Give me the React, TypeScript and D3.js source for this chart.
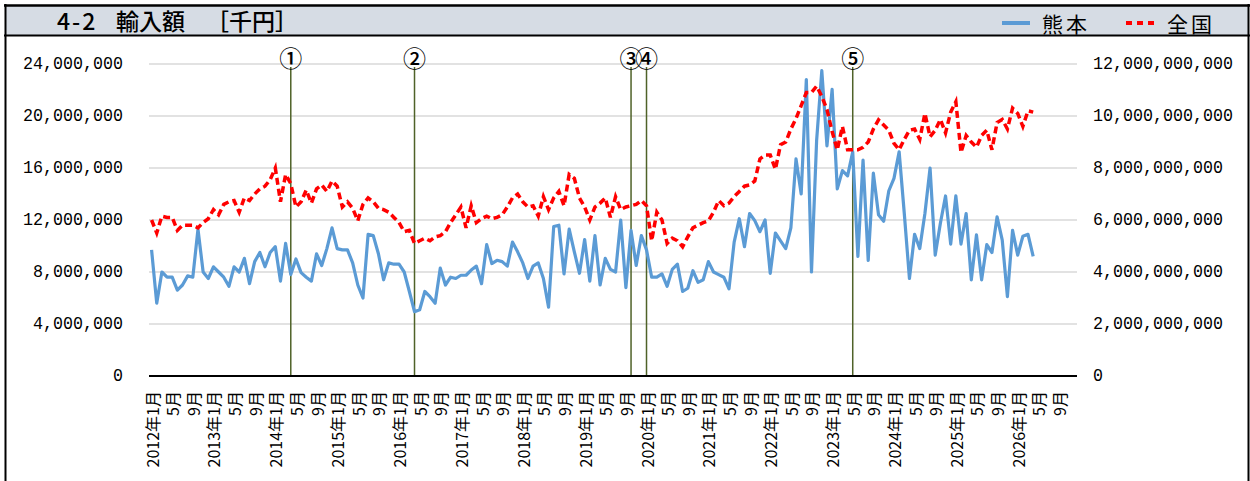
import React from 'react';
import * as d3 from 'd3';

// categories: 2012年1月 .. 2026年12月
const years = d3.range(2012, 2027);
const months = d3.range(1, 13);
const categories = years.flatMap((y) => months.map((m) => `${y}-${m}`));

// 熊本 (百万千円 = ×1,000,000 千円), 2012年1月から
const kumamoto = [
  9.7, 5.6, 8.0, 7.6, 7.6, 6.6, 7.0, 7.7, 7.6, 11.3, 8.0, 7.5,
  8.4, 8.0, 7.6, 6.9, 8.4, 8.0, 9.05, 7.1, 8.8, 9.5, 8.4, 9.5,
  9.95, 7.3, 10.2, 7.8, 9.0, 7.95, 7.6, 7.3, 9.4, 8.5, 9.8, 11.4,
  9.8, 9.7, 9.7, 8.7, 7.0, 6.0, 10.9, 10.8, 9.4, 7.4, 8.7, 8.6,
  8.6, 8.0, 6.5, 4.95, 5.1, 6.5, 6.1, 5.6, 8.3, 7.0, 7.6, 7.5,
  7.75, 7.75, 8.15, 8.45, 7.1, 10.1, 8.65, 8.9, 8.8, 8.45, 10.3, 9.55,
  8.7, 7.5, 8.45, 8.7, 7.5, 5.3, 11.5, 11.6, 7.85, 11.3, 9.55, 7.9,
  10.5, 7.3, 10.8, 7.0, 9.05, 8.2, 8.0, 12.0, 6.8, 11.2, 8.5, 10.8,
  9.7, 7.6, 7.6, 7.85, 6.9, 8.2, 8.6, 6.5, 6.75, 8.1, 7.2, 7.4,
  8.8, 8.0, 7.8, 7.6, 6.7, 10.3, 12.1, 9.95, 12.5, 11.95, 11.1, 12.0,
  7.9, 11.0, 10.4, 9.8, 11.4, 16.7, 14.0, 22.8, 8.0, 18.15, 23.5, 17.7,
  22.05, 14.4, 15.8, 15.4, 17.25, 9.2, 16.6, 8.9, 15.6, 12.4, 11.9, 14.25,
  15.2, 17.25, 12.5, 7.5, 10.9, 9.8, 12.5, 16.0, 9.3, 11.75, 13.85, 10.15,
  13.85, 10.15, 12.5, 7.4, 10.85, 7.4, 10.1, 9.5, 12.25, 10.45, 6.1, 11.2,
  9.3, 10.75, 10.9, 9.2,
];

// 全国 (十億千円 = ×1,000,000,000 千円), 2012年1月から
const zenkoku = [
  6.0, 5.5, 6.15, 6.1, 6.1, 5.6, 5.8, 5.8, 5.8, 5.7, 5.9, 6.05,
  6.4, 6.2, 6.6, 6.7, 6.75, 6.3, 6.85, 6.75, 7.0, 7.2, 7.3, 7.55,
  8.0, 6.7, 7.75, 7.4, 6.5, 6.7, 7.15, 6.65, 7.2, 7.35, 7.1, 7.5,
  7.3, 6.5, 6.7, 6.45, 5.97, 6.6, 6.85, 6.7, 6.45, 6.4, 6.3, 6.1,
  5.9, 5.55, 5.6, 5.1, 5.2, 5.3, 5.2, 5.35, 5.4, 5.55, 5.9, 6.2,
  6.5, 5.7, 6.55, 5.9, 6.05, 6.15, 6.05, 6.1, 6.2, 6.5, 6.85, 7.0,
  6.7, 6.5, 6.55, 6.15, 6.9, 6.4, 6.85, 7.1, 6.55, 7.75, 7.6, 6.85,
  6.5, 6.0, 6.5, 6.65, 6.85, 6.1, 6.9, 6.4, 6.5, 6.55, 6.6, 6.75,
  6.55, 5.2, 6.3, 6.0, 5.1, 5.3, 5.2, 4.97, 5.35, 5.7, 5.8, 5.9,
  5.97, 6.3, 6.75, 6.55, 6.65, 6.9, 7.1, 7.3, 7.35, 7.5, 8.35, 8.5,
  8.5, 7.95, 8.9, 9.0, 9.5, 9.9, 10.4, 10.9, 10.9, 11.15, 10.75, 10.25,
  9.4, 8.7, 9.6, 8.7, 8.7, 8.7, 8.8, 9.0, 9.5, 9.85, 9.65, 9.45,
  8.95, 8.7, 9.1, 9.45, 9.5, 9.1, 10.1, 9.2, 9.45, 9.87, 9.35, 10.15,
  10.55, 8.6, 9.25, 9.0, 8.8, 9.25, 9.45, 8.7, 9.75, 9.87, 9.5, 10.3,
  10.1, 9.6, 10.2, 10.15,
];

const leftTicks = [0, 4e6, 8e6, 12e6, 16e6, 20e6, 24e6];
const rightTicks = [0, 2e9, 4e9, 6e9, 8e9, 10e9, 12e9];
const labelMonths = [1, 5, 9];

const eventMarks = ['①', '②', '③', '④', '⑤'];
const eventMonths = ['2014-4', '2016-4', '2019-10', '2020-1', '2023-5'];

const fmt = d3.format(',');

const App = () => {
  const x = d3.scaleBand<string>().domain(categories).range([149, 1077]);
  const cx = (c: string) => (x(c) ?? 0) + x.bandwidth() / 2;
  const yL = d3.scaleLinear().domain([0, 24e6]).range([376, 64]);
  const yR = d3.scaleLinear().domain([0, 12e9]).range([376, 64]);

  const kumaLine = d3
    .line<number>()
    .x((_, i) => cx(categories[i]))
    .y((v) => yL(v * 1e6));
  const zenLine = d3
    .line<number>()
    .x((_, i) => cx(categories[i]))
    .y((v) => yR(v * 1e9));

  const numFont = '"Liberation Mono", monospace';
  const jpFont = '"Noto Sans CJK JP", sans-serif';

  return (
    <svg
      width={1250}
      height={481}
      style={{ position: 'absolute', left: 0, top: 0, display: 'block' }}
    >
      <rect x={0} y={0} width={1250} height={481} fill="#fff" />

      {/* title band */}
      <rect x={6} y={6} width={1242} height={29} fill="#D6DCE4" />
      <line x1={4} x2={1250} y1={5.5} y2={5.5} stroke="#000" strokeWidth={2.5} />
      <line x1={4} x2={1250} y1={35.5} y2={35.5} stroke="#000" strokeWidth={2} />
      <line x1={5.5} x2={5.5} y1={4} y2={481} stroke="#000" strokeWidth={2} />
      <line x1={1248.5} x2={1248.5} y1={4} y2={481} stroke="#000" strokeWidth={2} />

      <text y={30} fontFamily={jpFont} fontSize={23} fontWeight={500} fill="#000">
        <tspan x={57} letterSpacing={2}>4-2 </tspan>
        <tspan x={116}>輸入額　</tspan>
        <tspan x={206}>［千円］</tspan>
      </text>

      {/* legend */}
      <line x1={1002} x2={1030} y1={23} y2={23} stroke="#5B9BD5" strokeWidth={4} />
      <text
        x={1042}
        y={23}
        dominantBaseline="central"
        fontFamily={jpFont}
        fontSize={21}
        letterSpacing={3}
      >
        熊本
      </text>
      <line
        x1={1126}
        x2={1156}
        y1={23}
        y2={23}
        stroke="#FF0000"
        strokeWidth={4}
        strokeDasharray="6 5"
      />
      <text
        x={1167}
        y={23}
        dominantBaseline="central"
        fontFamily={jpFont}
        fontSize={21}
        letterSpacing={3}
      >
        全国
      </text>

      {/* gridlines */}
      {leftTicks.slice(1).map((t) => (
        <line
          key={t}
          x1={149}
          x2={1077}
          y1={yL(t)}
          y2={yL(t)}
          stroke="#D9D9D9"
          strokeWidth={1.5}
        />
      ))}

      {/* left axis labels */}
      {leftTicks.map((t) => {
        const s = fmt(t);
        return (
          <text
            key={t}
            x={123}
            y={yL(t)}
            textAnchor="end"
            dominantBaseline="central"
            fontFamily={numFont}
            fontSize={18}
            textLength={s.length * 10}
            lengthAdjust="spacingAndGlyphs"
          >
            {s}
          </text>
        );
      })}

      {/* right axis labels */}
      {rightTicks.map((t) => {
        const s = fmt(t);
        return (
          <text
            key={t}
            x={1093}
            y={yR(t)}
            dominantBaseline="central"
            fontFamily={numFont}
            fontSize={18}
            textLength={s.length * 10}
            lengthAdjust="spacingAndGlyphs"
          >
            {s}
          </text>
        );
      })}

      {/* event lines */}
      {eventMonths.map((m, i) => (
        <g key={m}>
          <line
            x1={cx(m)}
            x2={cx(m)}
            y1={67}
            y2={376}
            stroke="#4F6228"
            strokeWidth={1.5}
          />
          <text
            x={cx(m)}
            y={57}
            textAnchor="middle"
            dominantBaseline="central"
            fontFamily={jpFont}
            fontSize={23}
            fontWeight={500}
          >
            {eventMarks[i]}
          </text>
        </g>
      ))}

      {/* series */}
      <path
        d={kumaLine(kumamoto) ?? ''}
        fill="none"
        stroke="#5B9BD5"
        strokeWidth={3.2}
        strokeLinejoin="round"
      />
      <path
        d={zenLine(zenkoku) ?? ''}
        fill="none"
        stroke="#FF0000"
        strokeWidth={3.5}
        strokeDasharray="7 4"
      />

      {/* x axis */}
      <line x1={149} x2={1077} y1={376} y2={376} stroke="#000" strokeWidth={2} />
      {categories.map((c) => {
        const [y, m] = c.split('-').map(Number);
        if (!labelMonths.includes(m)) return null;
        return (
          <text
            key={c}
            transform={`translate(${cx(c)},391) rotate(-90)`}
            textAnchor="end"
            dominantBaseline="central"
            fontFamily={jpFont}
            fontSize={16}
          >
            {m === 1 ? `${y}年1月` : `${m}月`}
          </text>
        );
      })}
    </svg>
  );
};

export default App;
